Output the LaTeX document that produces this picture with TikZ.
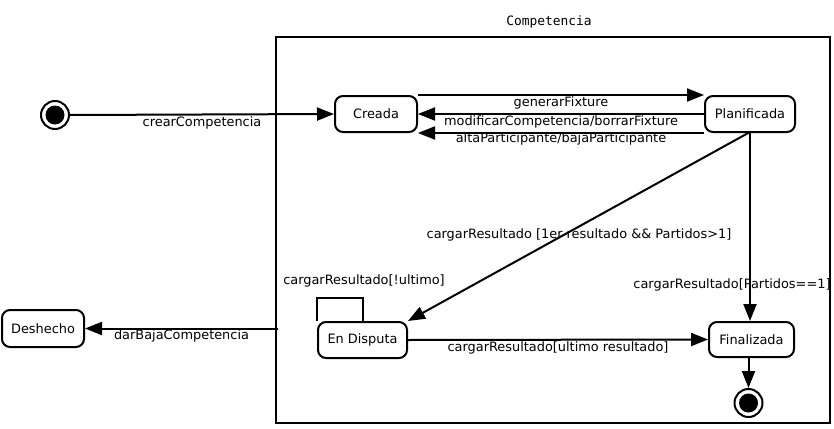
\documentclass[tikz,border=0pt]{standalone}
\usepackage{fontspec}
\setmainfont{DejaVu Sans}
\setmonofont{DejaVu Sans Mono}
\usetikzlibrary{arrows.meta}
\begin{document}
\begin{tikzpicture}[x=1pt,y=-1pt,
  every node/.style={font=\fontsize{12.9}{15}\selectfont, inner sep=0pt},
  state/.style={draw, line width=2pt, rounded corners=8pt, minimum height=36pt},
  trans/.style={line width=2pt, -{Triangle[length=17pt,width=13pt]}},
  plain/.style={line width=2pt},
  pseudo/.style={draw, circle, line width=2pt, minimum size=28pt}]
\useasboundingbox (0,0) rectangle (834,428);
% container
\node[draw, line width=2pt, minimum width=554pt, minimum height=386pt] (comp) at (553,230) {};
\node[font=\ttfamily\fontsize{12.9}{15}\selectfont] (title) at (549,22) {Competencia};
% states
\node[state, minimum width=82pt] (creada) at (376,114) {Creada};
\node[state, minimum width=90pt] (plan) at (750,114) {Planificada};
\node[state, minimum width=82pt, minimum height=37pt] (desh) at (43,328.5) {Deshecho};
\node[state, minimum width=89pt] (disp) at (362.5,340) {En Disputa};
\node[state, minimum width=85pt, minimum height=35pt] (fin) at (751.5,339.5) {Finalizada};
% initial and final
\node[pseudo] (init) at (55,115) {};
\fill (init.center) circle (9.5pt);
\node[pseudo] (final) at (748.5,403) {};
\fill (final.center) circle (9.5pt);
% transitions
\draw[trans] (init.east) -- (creada.west)
  node[pos=0.5, yshift=-8pt] (l1) {crearCompetencia};
\draw[trans] (creada.north east) -- (plan.north west)
  node[pos=0.5, yshift=-8pt] (l2) {generarFixture};
\draw[trans] (plan.west) -- (creada.east)
  node[pos=0.5, yshift=-8pt] (l3) {modificarCompetencia/borrarFixture};
\draw[trans] (plan.south west) -- (creada.south east)
  node[pos=0.5, yshift=-6pt] (l4) {altaParticipante/bajaParticipante};
\draw[trans] ([yshift=1pt]plan.south) -- (disp.north east)
  node[pos=0.5, yshift=-8pt] (l5) {cargarResultado [1er resultado \&\& Partidos>1]};
\draw[trans] (plan.south) -- (fin.north -| plan.south)
  node[pos=0.79, xshift=-18pt, yshift=-3pt] (l6) {cargarResultado[Partidos==1]};
\draw[trans] (disp.east) -- (fin.west)
  node[pos=0.5, yshift=-8pt] (l7) {cargarResultado[ultimo resultado]};
\draw[trans] (final.north |- fin.south) -- (final.north);
\draw[plain] (disp.north west) -- ++(0,-23) coordinate (lc) -| (disp.north);
\node (l8) at ([xshift=47pt, yshift=17pt]lc) {cargarResultado[!ultimo]};
\draw[trans] ([xshift=3pt]comp.west |- desh.east) -- (desh.east)
  node[pos=0.5, yshift=-7pt] (l9) {darBajaCompetencia};
\end{tikzpicture}
\end{document}
